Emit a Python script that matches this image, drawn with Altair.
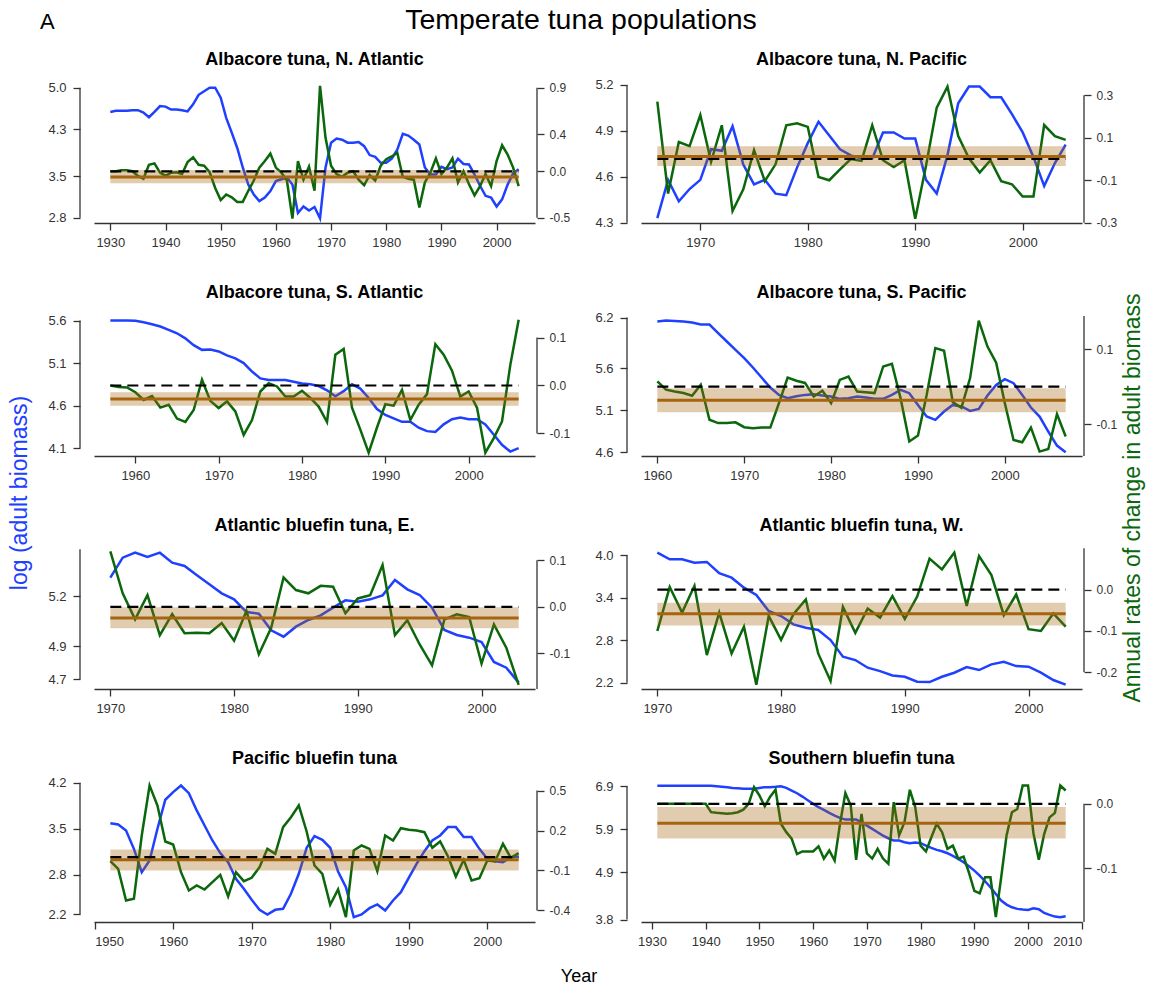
import altair as alt
import pandas as pd

# ---------------- data ----------------
titles = ["Albacore tuna, N. Atlantic", "Albacore tuna, N. Pacific",
          "Albacore tuna, S. Atlantic", "Albacore tuna, S. Pacific",
          "Atlantic bluefin tuna, E.", "Atlantic bluefin tuna, W.",
          "Pacific bluefin tuna", "Southern bluefin tuna"]
first_year = [1930, 1966, 1957, 1960, 1970, 1970, 1952, 1931]

blue_1 = [4.59, 4.61, 4.61, 4.61, 4.62, 4.62, 4.58, 4.50, 4.59, 4.69,
          4.68, 4.63, 4.63, 4.62, 4.60, 4.72, 4.88, 4.94, 5.00, 5.00,
          4.83, 4.49, 4.24, 3.98, 3.65, 3.36, 3.19, 3.08, 3.14, 3.25,
          3.42, 3.45, 3.48, 3.36, 2.88, 2.99, 2.92, 2.98, 2.79, 3.65,
          4.07, 4.14, 4.12, 4.07, 4.07, 4.08, 4.01, 3.86, 3.83, 3.73,
          3.73, 3.80, 3.95, 4.22, 4.19, 4.12, 4.04, 3.65, 3.53, 3.53,
          3.66, 3.62, 3.65, 3.80, 3.71, 3.70, 3.53, 3.34, 3.17, 3.14,
          2.99, 3.11, 3.36, 3.55, 3.62]
green_1 = [0.0, 0.0, 0.01, 0.01, 0.0, -0.05, -0.08, 0.07, 0.085, -0.015,
           -0.05, -0.015, -0.01, -0.03, 0.10, 0.15, 0.07, 0.06, -0.01, -0.18,
           -0.31, -0.25, -0.28, -0.33, -0.33, -0.21, -0.10, 0.04, 0.11, 0.19,
           0.04, -0.015, -0.10, -0.51, 0.11, -0.09, 0.05, -0.21, 0.92, 0.36,
           0.06, -0.03, -0.06, -0.015, 0.0, -0.09, -0.15, -0.04, -0.10, 0.06,
           0.13, 0.16, 0.20, -0.06, -0.08, -0.09, -0.39, -0.12, -0.015, 0.14,
           -0.03, 0.04, 0.14, -0.12, 0.0, -0.14, -0.26, -0.16, -0.03, -0.16,
           0.11, 0.28, 0.18, 0.04, -0.16]

blue_2 = [4.33, 4.58, 4.44, 4.52, 4.58, 4.78, 4.77, 4.93, 4.68, 4.55,
          4.58, 4.49, 4.48, 4.66, 4.82, 4.96, 4.87, 4.78, 4.74, 4.72,
          4.72, 4.89, 4.89, 4.85, 4.85, 4.58, 4.49, 4.74, 5.08, 5.19,
          5.19, 5.12, 5.12, 5.01, 4.89, 4.73, 4.54, 4.69, 4.81]
green_2 = [0.27, -0.163, 0.08, 0.061, 0.207, -0.013, 0.159, -0.245, -0.143, 0.041,
           -0.104, -0.025, 0.159, 0.168, 0.151, -0.085, -0.10, -0.049, 0.0, -0.009,
           0.159, -0.006, -0.038, -0.006, -0.281, -0.033, 0.242, 0.341, 0.108, 0.003,
           -0.064, -0.006, -0.104, -0.119, -0.177, -0.177, 0.16, 0.108, 0.09]

blue_3 = [5.6, 5.6, 5.6, 5.596, 5.58, 5.557, 5.53, 5.49, 5.45, 5.39,
          5.31, 5.255, 5.26, 5.236, 5.19, 5.156, 5.10, 5.0, 4.92, 4.90,
          4.90, 4.90, 4.88, 4.86, 4.85, 4.83, 4.78, 4.71, 4.77, 4.85,
          4.80, 4.69, 4.56, 4.49, 4.45, 4.41, 4.41, 4.34, 4.30, 4.29,
          4.38, 4.44, 4.46, 4.44, 4.44, 4.38, 4.26, 4.14, 4.06, 4.10]
green_3 = [0.0, -0.003, -0.004, -0.014, -0.03, -0.022, -0.046, -0.04, -0.069, -0.076,
           -0.051, 0.012, -0.032, -0.047, -0.033, -0.054, -0.103, -0.072, -0.0125, 0.005,
           -0.002, -0.023, -0.023, -0.011, -0.026, -0.044, -0.076, 0.064, 0.076, -0.046,
           -0.092, -0.14, -0.0875, -0.039, -0.042, -0.009, -0.072, -0.04, -0.018, 0.086,
           0.064, 0.031, -0.023, -0.0125, -0.046, -0.14, -0.11, -0.075, 0.043, 0.137]

blue_4 = [6.152, 6.164, 6.16, 6.152, 6.14, 6.117, 6.117, 6.014, 5.915, 5.816,
          5.717, 5.606, 5.487, 5.368, 5.281, 5.242, 5.265, 5.281, 5.289, 5.273,
          5.261, 5.234, 5.242, 5.261, 5.25, 5.234, 5.234, 5.281, 5.34, 5.301,
          5.162, 5.024, 4.984, 5.083, 5.162, 5.143, 5.091, 5.115, 5.273, 5.4,
          5.467, 5.42, 5.281, 5.131, 5.024, 4.846, 4.679, 4.6]
green_4 = [0.014, -0.008, -0.013, -0.017, -0.024, 0.005, -0.088, -0.097, -0.097, -0.095,
           -0.108, -0.111, -0.109, -0.109, -0.044, 0.024, 0.016, 0.01, -0.026, -0.011,
           -0.044, 0.018, 0.027, -0.013, -0.015, -0.017, 0.054, 0.061, -0.031, -0.146,
           -0.13, -0.022, 0.103, 0.096, -0.041, -0.056, 0.023, 0.176, 0.107, 0.064,
           -0.044, -0.142, -0.148, -0.109, -0.173, -0.166, -0.073, -0.133]

blue_5 = [5.31, 5.43, 5.46, 5.434, 5.46, 5.40, 5.38, 5.324, 5.27, 5.216,
          5.18, 5.104, 5.094, 4.994, 4.956, 5.016, 5.056, 5.084, 5.13, 5.174,
          5.166, 5.18, 5.204, 5.296, 5.24, 5.206, 5.13, 4.996, 4.966, 4.95,
          4.924, 4.804, 4.77, 4.68]
green_5 = [0.119, 0.029, -0.027, 0.025, -0.061, -0.016, -0.057, -0.056, -0.057, -0.035,
           -0.073, -0.009, -0.102, -0.045, 0.063, 0.036, 0.029, 0.045, 0.043, -0.014,
           0.018, 0.025, 0.09, -0.061, -0.029, -0.081, -0.126, -0.027, -0.016, -0.022,
           -0.122, -0.038, -0.088, -0.168]

blue_6 = [4.038, 3.943, 3.943, 3.896, 3.906, 3.746, 3.684, 3.543, 3.439, 3.213,
          3.142, 3.024, 2.977, 2.944, 2.803, 2.567, 2.52, 2.412, 2.364, 2.303,
          2.284, 2.214, 2.209, 2.284, 2.341, 2.421, 2.379, 2.459, 2.496, 2.435,
          2.426, 2.341, 2.238, 2.172]
green_6 = [-0.1005, 0.006, -0.056, 0.009, -0.159, -0.056, -0.155, -0.09, -0.231, -0.064,
           -0.122, -0.06, -0.024, -0.155, -0.222, -0.042, -0.105, -0.046, -0.068, -0.016,
           -0.071, -0.017, 0.075, 0.049, 0.0895, -0.04, 0.081, 0.035, -0.062, -0.012,
           -0.096, -0.1005, -0.058, -0.09]

blue_7 = [3.587, 3.567, 3.476, 3.197, 2.843, 3.02, 3.501, 3.942, 4.058, 4.159,
          4.043, 3.78, 3.552, 3.324, 3.132, 2.995, 2.742, 2.59, 2.423, 2.271,
          2.2, 2.271, 2.286, 2.514, 2.818, 3.213, 3.39, 3.334, 3.213, 2.853,
          2.615, 2.159, 2.2, 2.296, 2.352, 2.261, 2.413, 2.539, 2.757, 2.97,
          3.162, 3.324, 3.4, 3.527, 3.527, 3.375, 3.375, 3.197, 3.046, 3.01,
          2.995, 3.071, 3.081]
green_7 = [-0.03, -0.0875, -0.325, -0.3125, 0.1625, 0.5375, 0.3875, 0.1175, 0.095, -0.1125,
           -0.25, -0.2125, -0.2425, -0.1875, -0.1325, -0.295, -0.1125, -0.18, -0.155, -0.075,
           0.0625, 0.025, 0.225, 0.3, 0.3875, 0.1925, -0.0625, -0.125, -0.3575, -0.2425,
           -0.45, 0.05, 0.0875, 0.0625, -0.105, 0.1625, 0.125, 0.2175, 0.205, 0.2,
           0.1875, 0.07, 0.1175, 0.005, -0.145, -0.02, -0.175, -0.1575, -0.025, -0.0325,
           0.1, -0.005, 0.03]

blue_8 = [6.91, 6.91, 6.91, 6.91, 6.91, 6.91, 6.91, 6.91, 6.91, 6.91,
          6.91, 6.90, 6.89, 6.877, 6.86, 6.85, 6.84, 6.84, 6.84, 6.86,
          6.877, 6.877, 6.885, 6.9, 6.861, 6.799, 6.737, 6.659, 6.574, 6.489,
          6.411, 6.349, 6.279, 6.217, 6.163, 6.124, 6.124, 6.124, 6.062, 5.984,
          5.907, 5.829, 5.752, 5.690, 5.636, 5.636, 5.597, 5.574, 5.589, 5.574,
          5.519, 5.465, 5.419, 5.388, 5.341, 5.279, 5.209, 5.132, 5.039, 4.938,
          4.822, 4.690, 4.550, 4.395, 4.240, 4.147, 4.085, 4.047, 4.031, 4.024,
          4.062, 4.039, 3.953, 3.907, 3.868, 3.853, 3.876]
green_8 = [0.0, 0.0, 0.0, 0.0, 0.0, 0.0, 0.0, 0.0, 0.0, 0.0,
           -0.013, -0.014, -0.0145, -0.0155, -0.0145, -0.013, -0.009, 0.0, 0.026, 0.013,
           -0.004, 0.011, 0.022, -0.031, -0.044, -0.054, -0.078, -0.074, -0.074, -0.074,
           -0.066, -0.085, -0.0725, -0.088, -0.031, 0.0166, -0.0026, -0.087, -0.0155, -0.077,
           -0.085, -0.07, -0.085, -0.093, 0.0026, -0.049, -0.0285, 0.0218, -0.005, -0.065,
           -0.074, -0.052, -0.031, -0.044, -0.07, -0.065, -0.085, -0.082, -0.107, -0.135,
           -0.139, -0.114, -0.114, -0.176, -0.114, -0.049, -0.013, -0.008, 0.0285, 0.0285,
           -0.0456, -0.087, -0.047, -0.021, -0.014, 0.0285, 0.0207]

blues = [blue_1, blue_2, blue_3, blue_4, blue_5, blue_6, blue_7, blue_8]
greens = [green_1, green_2, green_3, green_4, green_5, green_6, green_7, green_8]

# mean annual rate of change and its interval
means = [-0.062, 0.012, -0.028, -0.036, -0.024, -0.059, -0.020, -0.030]
band_lo = [-0.130, -0.033, -0.042, -0.068, -0.046, -0.087, -0.100, -0.054]
band_hi = [0.014, 0.060, -0.014, -0.004, -0.001, -0.032, 0.058, -0.005]

# axis tick values
x_ticks = [[1930, 1940, 1950, 1960, 1970, 1980, 1990, 2000],
           [1970, 1980, 1990, 2000],
           [1960, 1970, 1980, 1990, 2000],
           [1960, 1970, 1980, 1990, 2000],
           [1970, 1980, 1990, 2000],
           [1970, 1980, 1990, 2000],
           [1950, 1960, 1970, 1980, 1990, 2000],
           [1930, 1940, 1950, 1960, 1970, 1980, 1990, 2000, 2010]]
left_ticks = [[2.8, 3.5, 4.3, 5.0], [4.3, 4.6, 4.9, 5.2], [4.1, 4.6, 5.1, 5.6],
              [4.6, 5.1, 5.6, 6.2], [4.7, 4.9, 5.2], [2.2, 2.8, 3.4, 4.0],
              [2.2, 2.8, 3.5, 4.2], [3.8, 4.9, 5.9, 6.9]]
right_ticks = [[-0.5, 0.0, 0.4, 0.9], [-0.3, -0.1, 0.1, 0.3], [-0.1, 0.0, 0.1],
               [-0.1, 0.1], [-0.1, 0.0, 0.1], [-0.2, -0.1, 0.0, 0.1],
               [-0.4, -0.1, 0.2, 0.5], [-0.1, 0.0]]

# scale extents (plot region) for the two y axes
blue_dom = [[2.710, 5.080], [4.298, 5.213], [4.008, 5.653], [4.555, 6.218],
            [4.642, 5.482], [2.111, 4.089], [2.086, 4.212], [3.742, 6.998]]
green_dom = [[-0.557, 0.951], [-0.3014, 0.3579], [-0.1469, 0.1448], [-0.1848, 0.1885],
             [-0.1768, 0.1243], [-0.2412, 0.0983], [-0.4863, 0.5638], [-0.1835, 0.0339]]
# extents of the drawn axis lines
left_line = [[2.8, 5.0], [4.3, 5.2], [4.1, 5.6], [4.6, 6.2], [4.7, 5.48],
             [2.2, 4.0], [2.2, 4.2], [3.8, 6.9]]
right_line = [[-0.5, 0.9], [-0.3, 0.3], [-0.1, 0.1], [-0.1848, 0.1885],
              [-0.1768, 0.1], [-0.2, 0.1], [-0.4, 0.5], [-0.1835, 0.0]]

# ---------------- style ----------------
W, H = 441, 140
FONT = "Liberation Sans"
BLUE = "#2040ff"
GREEN = "#0b670b"
BROWN = "#a5650f"
AXC = "#333333"
LEFT_OFF = 14
RIGHT_OFF = 2


def text_layer(txt, x, y, size, color="black", angle=0, weight="normal",
               align="center", baseline="alphabetic"):
    return alt.Chart(pd.DataFrame({"t": [txt]})).mark_text(
        text=txt, font=FONT, fontSize=size, color=color, angle=angle,
        fontWeight=weight, align=align, baseline=baseline
    ).encode(x=alt.value(x), y=alt.value(y))


def make_panel(i):
    y0 = first_year[i]
    b, g = blues[i], greens[i]
    years = list(range(y0, y0 + len(b)))
    y1 = years[-1]
    r = y1 - y0
    xscale = alt.Scale(domain=[y0 - 0.04 * r, y1 + 0.04 * r], nice=False, zero=False)
    xaxis = alt.Axis(values=x_ticks[i], format="d", title=None, grid=False,
                     tickSize=7, labelPadding=6, domainColor=AXC, tickColor=AXC,
                     labelColor=AXC, labelFontSize=13, labelFont=FONT,
                     domainWidth=1.3, tickWidth=1.3)
    df = pd.DataFrame({"year": years, "blue": b, "green": g})
    ref = pd.DataFrame({"x0": [y0], "x1": [y1], "lo": [band_lo[i]], "hi": [band_hi[i]],
                        "mean": [means[i]], "zero": [0.0]})
    lines = pd.DataFrame({"llo": [left_line[i][0]], "lhi": [left_line[i][1]],
                          "rlo": [right_line[i][0]], "rhi": [right_line[i][1]]})

    bscale = alt.Scale(domain=blue_dom[i], nice=False, zero=False)
    gscale = alt.Scale(domain=green_dom[i], nice=False, zero=False)
    baxis = alt.Axis(orient="left", values=left_ticks[i],
                     labelExpr="format(datum.value, '.1f')", domain=False,
                     offset=LEFT_OFF, tickSize=7, labelPadding=7, title=None, grid=False,
                     tickColor=AXC, labelColor=AXC, labelFontSize=13, labelFont=FONT,
                     tickWidth=1.3)
    gaxis = alt.Axis(orient="right", values=right_ticks[i],
                     labelExpr="(datum.value < 0 ? '-' : '') + format(abs(datum.value), '.1f')",
                     domain=False, offset=RIGHT_OFF, tickSize=7, labelPadding=5,
                     title=None, grid=False, tickColor=AXC, labelColor=AXC,
                     labelFontSize=12, labelFont=FONT, tickWidth=1.3)

    X = alt.X("year:Q", scale=xscale, axis=xaxis)
    X0 = alt.X("x0:Q", scale=xscale, axis=xaxis)

    blue_line = alt.Chart(df).mark_line(color=BLUE, strokeWidth=2.5).encode(
        x=X, y=alt.Y("blue:Q", scale=bscale, axis=baxis))
    lrule = alt.Chart(lines).mark_rule(color=AXC, strokeWidth=1.3).encode(
        x=alt.value(-LEFT_OFF), y=alt.Y("llo:Q", scale=bscale, axis=baxis), y2="lhi:Q")

    green_line = alt.Chart(df).mark_line(color=GREEN, strokeWidth=2.5).encode(
        x=X, y=alt.Y("green:Q", scale=gscale, axis=gaxis))
    band = alt.Chart(ref).mark_rect(color=BROWN, opacity=0.33).encode(
        x=X0, x2="x1:Q", y=alt.Y("lo:Q", scale=gscale, axis=gaxis), y2="hi:Q")
    brown = alt.Chart(ref).mark_rule(color=BROWN, strokeWidth=3).encode(
        x=X0, x2="x1:Q", y=alt.Y("mean:Q", scale=gscale, axis=gaxis))
    dashed = alt.Chart(ref).mark_rule(color="black", strokeWidth=2.2, strokeDash=[11, 6]).encode(
        x=X0, x2="x1:Q", y=alt.Y("zero:Q", scale=gscale, axis=gaxis))
    rrule = alt.Chart(lines).mark_rule(color=AXC, strokeWidth=1.3).encode(
        x=alt.value(W + RIGHT_OFF), y=alt.Y("rlo:Q", scale=gscale, axis=gaxis), y2="rhi:Q")

    texts = [text_layer(titles[i], W / 2, -18, 18, weight="bold")]
    if i == 0:
        texts.append(text_layer("A", -54, -54, 22, align="left"))
        texts.append(text_layer("Temperate tuna populations", 487, -54, 28.5))
    if i == 2:
        texts.append(text_layer("log (adult biomass)", -74, 177, 23, color=BLUE,
                                angle=270, baseline="middle"))
    if i == 3:
        texts.append(text_layer("Annual rates of change in adult biomass", 492, 182, 23,
                                color=GREEN, angle=270, baseline="middle"))
    if i == 6:
        texts.append(text_layer("Year", 485, 200, 18))

    return alt.layer(
        alt.layer(blue_line, lrule),
        alt.layer(green_line, band, brown, dashed, rrule),
        *texts
    ).resolve_scale(y="independent").properties(width=W, height=H)


panels = [make_panel(i) for i in range(8)]

chart = alt.concat(*panels, columns=2, spacing={"row": 93, "column": 106},
                   bounds="flush").configure_view(stroke=None).properties(
    padding={"left": 9, "top": 6, "right": 5, "bottom": 5},
    background="white")

chart.save("out.html", embed_options={"renderer": "svg", "actions": False})
